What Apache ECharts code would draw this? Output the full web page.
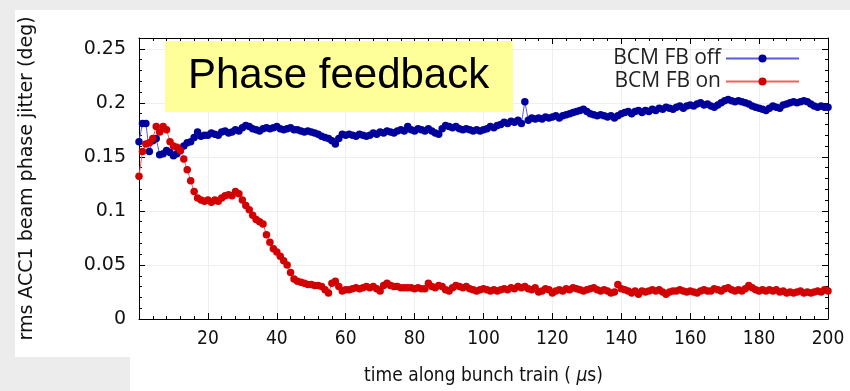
<!DOCTYPE html>
<html>
<head>
<meta charset="utf-8">
<script src="https://cdn.jsdelivr.net/npm/echarts@6/dist/echarts.min.js"></script>
<style>
html,body{margin:0;padding:0;background:#ececec;}
#chart{width:850px;height:391px;}
</style>
</head>
<body>
<div id="chart"></div>
<script>
// sampling grid of the bunch train (us)
const timeStartUs = 0;
const timeStepUs = 1;

// rms beam phase jitter (deg), one value per microsecond
const bcmFbOff = [
0.164,0.181,0.181,0.155,0.165,0.167,0.152,0.153,0.156,0.154,
0.151,0.153,0.156,0.160,0.163,0.164,0.168,0.173,0.169,0.170,
0.170,0.172,0.171,0.170,0.173,0.174,0.172,0.173,0.175,0.174,
0.177,0.179,0.178,0.176,0.175,0.174,0.176,0.177,0.176,0.177,
0.178,0.176,0.175,0.176,0.177,0.175,0.175,0.174,0.173,0.174,
0.173,0.172,0.171,0.169,0.168,0.167,0.165,0.162,0.167,0.171,
0.170,0.171,0.170,0.169,0.171,0.170,0.169,0.170,0.172,0.171,
0.173,0.172,0.174,0.173,0.172,0.174,0.175,0.174,0.178,0.175,
0.174,0.176,0.175,0.174,0.176,0.174,0.172,0.171,0.176,0.179,
0.178,0.177,0.178,0.176,0.175,0.176,0.175,0.174,0.175,0.174,
0.175,0.176,0.178,0.177,0.179,0.180,0.182,0.181,0.183,0.182,
0.184,0.181,0.201,0.184,0.186,0.185,0.186,0.185,0.187,0.186,
0.187,0.188,0.186,0.188,0.189,0.190,0.191,0.192,0.193,0.194,
0.192,0.190,0.189,0.188,0.189,0.188,0.187,0.188,0.186,0.188,
0.190,0.191,0.192,0.190,0.192,0.193,0.191,0.193,0.192,0.194,
0.193,0.195,0.194,0.196,0.195,0.194,0.196,0.197,0.195,0.197,
0.198,0.197,0.199,0.200,0.198,0.199,0.197,0.196,0.198,0.200,
0.202,0.203,0.202,0.201,0.202,0.201,0.200,0.199,0.197,0.196,
0.195,0.194,0.193,0.195,0.197,0.196,0.195,0.198,0.199,0.200,
0.201,0.200,0.201,0.202,0.201,0.199,0.197,0.196,0.197,0.196,
0.196
];
const bcmFbOn = [
0.132,0.155,0.162,0.163,0.167,0.178,0.173,0.178,0.175,0.164,
0.160,0.159,0.156,0.148,0.138,0.128,0.118,0.112,0.110,0.109,
0.110,0.108,0.110,0.109,0.112,0.114,0.115,0.114,0.118,0.116,
0.110,0.105,0.101,0.096,0.092,0.090,0.088,0.078,0.071,0.065,
0.062,0.058,0.054,0.050,0.043,0.037,0.035,0.034,0.033,0.032,
0.032,0.031,0.031,0.030,0.027,0.024,0.033,0.035,0.030,0.026,
0.027,0.027,0.028,0.029,0.028,0.029,0.030,0.029,0.030,0.028,
0.026,0.031,0.033,0.031,0.030,0.030,0.029,0.029,0.029,0.029,
0.028,0.029,0.028,0.028,0.033,0.030,0.029,0.031,0.030,0.027,
0.026,0.029,0.031,0.030,0.029,0.030,0.028,0.027,0.026,0.027,
0.028,0.027,0.026,0.027,0.026,0.027,0.028,0.027,0.029,0.028,
0.030,0.029,0.030,0.028,0.027,0.029,0.025,0.026,0.028,0.027,
0.024,0.026,0.027,0.026,0.028,0.027,0.029,0.028,0.027,0.026,
0.027,0.028,0.029,0.027,0.026,0.027,0.026,0.024,0.025,0.032,
0.028,0.027,0.026,0.024,0.026,0.023,0.026,0.025,0.026,0.027,
0.026,0.027,0.025,0.023,0.025,0.026,0.026,0.027,0.026,0.025,
0.026,0.025,0.024,0.026,0.027,0.026,0.026,0.028,0.027,0.026,
0.028,0.029,0.027,0.026,0.027,0.026,0.028,0.031,0.029,0.027,
0.026,0.027,0.026,0.027,0.026,0.027,0.025,0.026,0.024,0.025,
0.024,0.025,0.026,0.024,0.025,0.024,0.025,0.026,0.025,0.027,
0.026
];

const seriesNames = ['BCM FB off', 'BCM FB on'];
const xTicks = { min: 0, max: 200, interval: 20 };
const yTicks = { min: 0, max: 0.26, interval: 0.05 };
const titleText = 'Phase feedback';
const xAxisTitle = 'time along bunch train ( {i|μ}s)';
const yAxisTitle = 'rms ACC1 beam phase jitter (deg)';

function toPairs(vals) {
  return vals.map((v, i) => [timeStartUs + i * timeStepUs, v]);
}

const chart = echarts.init(document.getElementById('chart'), null, { renderer: 'canvas' });

const axisCommon = {
  axisLine: { show: true, onZero: false, lineStyle: { color: '#000', width: 1 } },
  axisTick: { show: true, inside: true, length: 6, lineStyle: { color: '#000', width: 1 } },
  minorTick: { show: true, splitNumber: 5, length: 3, lineStyle: { color: '#000', width: 1 } }
};

const xLabelFont = "'DejaVu Sans Condensed', 'Liberation Sans Narrow', 'DejaVu Sans', sans-serif";

chart.setOption({
  backgroundColor: 'transparent',
  animation: false,
  graphic: [
    { type: 'rect', z: -10, shape: { x: 15, y: 10, width: 835, height: 347 }, style: { fill: '#fff' } },
    { type: 'rect', z: -10, shape: { x: 130, y: 357, width: 720, height: 34 }, style: { fill: '#fff' } },
    { type: 'rect', z: 100, shape: { x: 165, y: 41, width: 348, height: 71 }, style: { fill: '#ffff99' } },
    { type: 'text', z: 101, left: 188, top: 55, style: { text: titleText, fill: '#000', font: "42px 'Liberation Sans', Arial, sans-serif" } }
  ],
  grid: { left: 139, right: 22, top: 38, bottom: 68, containLabel: false },
  legend: {
    data: seriesNames,
    orient: 'vertical',
    align: 'right',
    right: 45,
    top: 43,
    itemWidth: 73,
    itemHeight: 10,
    itemGap: 2,
    textStyle: { fontFamily: "'Open Sans', sans-serif", fontSize: 21, color: '#222' }
  },
  xAxis: [
    Object.assign({}, axisCommon, {
      type: 'value', position: 'bottom',
      min: xTicks.min, max: xTicks.max, interval: xTicks.interval,
      axisLabel: { showMinLabel: false, margin: 11, color: '#111', fontSize: 19, fontFamily: xLabelFont },
      splitLine: { show: true, lineStyle: { color: '#eeeeee', width: 1 } },
      name: xAxisTitle, nameLocation: 'middle', nameGap: 48,
      nameTextStyle: { fontSize: 19, color: '#111', fontFamily: xLabelFont,
        rich: { i: { fontSize: 19, fontStyle: 'italic', fontFamily: xLabelFont, color: '#111' } } }
    }),
    Object.assign({}, axisCommon, {
      type: 'value', position: 'top',
      min: xTicks.min, max: xTicks.max, interval: xTicks.interval,
      axisLabel: { show: false }, splitLine: { show: false }
    })
  ],
  yAxis: [
    Object.assign({}, axisCommon, {
      type: 'value', position: 'left',
      min: yTicks.min, max: yTicks.max, interval: yTicks.interval,
      axisLabel: { showMaxLabel: false, margin: 13, color: '#111', fontSize: 19, fontFamily: "'DejaVu Sans', sans-serif" },
      splitLine: { show: true, lineStyle: { color: '#eeeeee', width: 1 } },
      name: yAxisTitle, nameLocation: 'middle', nameGap: 102, nameRotate: 90,
      nameTextStyle: { fontSize: 19, color: '#111', fontFamily: "'DejaVu Sans', sans-serif" }
    }),
    Object.assign({}, axisCommon, {
      type: 'value', position: 'right',
      min: yTicks.min, max: yTicks.max, interval: yTicks.interval,
      axisLabel: { show: false }, splitLine: { show: false }
    })
  ],
  series: [
    {
      name: seriesNames[0], type: 'line', data: toPairs(bcmFbOff),
      symbol: 'circle', symbolSize: 7.5, showAllSymbol: true,
      itemStyle: { color: '#00009c' },
      lineStyle: { color: '#5a5ae0', width: 1 },
      emphasis: { disabled: true }
    },
    {
      name: seriesNames[1], type: 'line', data: toPairs(bcmFbOn),
      symbol: 'circle', symbolSize: 7.5, showAllSymbol: true,
      itemStyle: { color: '#d20000' },
      lineStyle: { color: '#f06060', width: 1 },
      emphasis: { disabled: true }
    }
  ]
});
</script>
</body>
</html>
